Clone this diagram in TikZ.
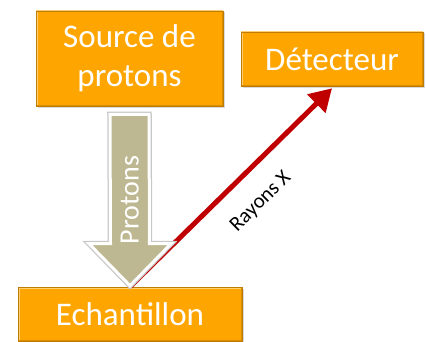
\documentclass[tikz,border=0pt]{standalone}
\usepackage{fontspec}
\setmainfont{Carlito}
\usetikzlibrary{arrows.meta,calc,shadows}
\definecolor{boxorange}{RGB}{255,165,0}
\definecolor{protontan}{RGB}{190,184,146}
\definecolor{xrayred}{RGB}{192,0,0}
\begin{document}
\begin{tikzpicture}[x=1pt, y=1pt,
  box/.style={fill=boxorange, draw=boxorange!75!black, line width=0.6pt, text=white,
    font=\fontsize{33}{39}\selectfont, align=center, inner sep=0pt,
    drop shadow={opacity=0.3, shadow xshift=1.5pt, shadow yshift=-1.5pt},
    path picture={
      \draw[boxorange!55!white, line width=3pt]
        (path picture bounding box.south west) -- (path picture bounding box.north west)
        -- (path picture bounding box.north east);
      \draw[boxorange!85!black, line width=3pt]
        (path picture bounding box.north east) -- (path picture bounding box.south east)
        -- (path picture bounding box.south west);}},
  beam/.style={fill=protontan, draw=white, line width=3pt, line join=miter,
    preaction={draw=black!22, line width=5.5pt}},
  xray/.style={draw=xrayred, line width=5pt, -{Triangle[length=22pt, width=25pt]}}]
\useasboundingbox (0,0) rectangle (426,341);
\node[box, minimum width=187pt, minimum height=95pt] (src) at (129.5,282.5) {Source de\\protons};
\node[box, minimum width=182pt, minimum height=54pt] (det) at (332,282) {Détecteur};
\node[box, minimum width=224pt, minimum height=54pt] (ech) at (130,27) {Echantillon};
% rayons X
\draw[xray] (ech.north) -- ([yshift=-2pt]det.south)
  node[sloped, below=17pt, pos=0.54, text=black, font=\fontsize{21}{24}\selectfont] (rx) {Rayons X};
% faisceau de protons
\coordinate (ptop) at ([yshift=-8pt]src.south);
\coordinate (ptip) at ([yshift=1pt]ech.north);
\path[beam] ([xshift=-19.5pt]ptop) -- ([xshift=19.5pt]ptop) -- ([shift={(19.5pt,42pt)}]ptip)
  -- ([shift={(41pt,42pt)}]ptip) -- (ptip) -- ([shift={(-41pt,42pt)}]ptip)
  -- ([shift={(-19.5pt,42pt)}]ptip) -- cycle;
\node[rotate=90, text=white, font=\fontsize{28}{32}\selectfont] (plab) at ($(ptop)!0.5!(ptip)$) {Protons};
\end{tikzpicture}
\end{document}
